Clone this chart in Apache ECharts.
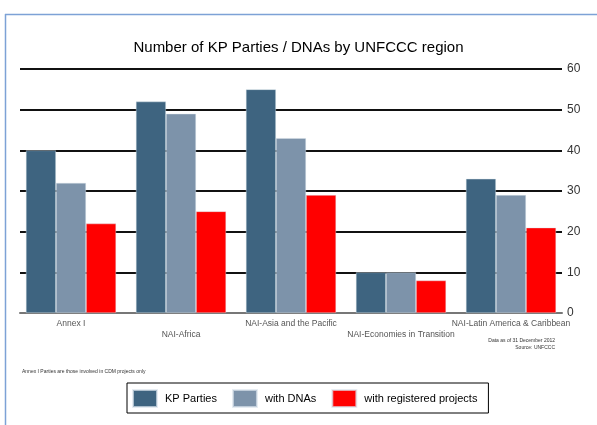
<!DOCTYPE html>
<html>
<head>
<meta charset="utf-8">
<script src="https://cdn.jsdelivr.net/npm/echarts@6/dist/echarts.min.js"></script>
<style>
html,body{margin:0;padding:0;background:#fff;}
#main{width:597px;height:425px;}
</style>
</head>
<body>
<div id="main"></div>
<script>
// regions
var categories = ['Annex I', 'NAI-Africa', 'NAI-Asia and the Pacific', 'NAI-Economies in Transition', 'NAI-Latin America & Caribbean'];
// series
var kpParties = [40, 52, 55, 10, 33];
var withDNAs = [32, 49, 43, 10, 29];
var withProjects = [22, 25, 29, 8, 21];
var seriesNames = ['KP Parties', 'with DNAs', 'with registered projects'];
var yTicks = [0, 10, 20, 30, 40, 50, 60];

var fontName = '"Liberation Sans", Arial, sans-serif';

var chart = echarts.init(document.getElementById('main'));

function barSeries(name, data, color){
	return {
		name: name,
		type: 'bar',
		xAxisIndex: 1,
		yAxisIndex: 1,
		data: data,
		barGap: '0%',
		barCategoryGap: '18%',
		itemStyle: {color: color, borderColor: 'rgba(220,228,236,0.7)', borderWidth: 0.6}
	};
}

var yMin = yTicks[0], yMax = yTicks[yTicks.length - 1];

var option = {
	animation: false,
	title: {
		text: 'Number of KP Parties / DNAs by UNFCCC region',
		left: 'center',
		top: 35,
		textStyle: {fontFamily: fontName, fontSize: 15, fontWeight: 'normal', color: '#000'}
	},
	// grid 0: 网格线和坐标轴  grid 1: 柱子
	grid: [
		{left: 20, right: 35, top: 69, bottom: 112},
		{left: 16, right: 31, top: 69, bottom: 112}
	],
	legend: {
		data: seriesNames,
		left: 127,
		top: 383,
		padding: [6, 11, 5, 5],
		itemGap: 15,
		itemWidth: 24,
		itemHeight: 17,
		borderColor: '#000',
		borderWidth: 1,
		textStyle: {fontFamily: fontName, fontSize: 11, color: '#000', padding: [0, 0, 0, 3]},
		icon: 'rect'
	},
	xAxis: [
		{
			type: 'category',
			gridIndex: 0,
			data: categories,
			axisLine: {lineStyle: {color: '#777', width: 2}},
			axisTick: {show: false},
			axisLabel: {show: false}
		},
		{
			type: 'category',
			gridIndex: 1,
			data: categories,
			axisLine: {show: false},
			axisTick: {show: false},
			axisLabel: {
				interval: 0,
				margin: 5,
				fontFamily: fontName,
				fontSize: 8.5,
				lineHeight: 11,
				color: '#555',
				formatter: function(v, i){
					// 标签交错两行
					return i % 2 == 1 ? '\n' + v : v;
				}
			}
		}
	],
	yAxis: [
		{
			type: 'value',
			gridIndex: 0,
			position: 'right',
			min: yMin,
			max: yMax,
			interval: 10,
			axisLine: {show: false},
			axisTick: {show: false},
			axisLabel: {margin: 5, fontFamily: fontName, fontSize: 12, color: '#333'},
			splitLine: {lineStyle: {color: '#111', width: 2}}
		},
		{
			type: 'value',
			gridIndex: 1,
			min: yMin,
			max: yMax,
			interval: 10,
			show: false
		}
	],
	series: [
		barSeries(seriesNames[0], kpParties, '#3e6480'),
		barSeries(seriesNames[1], withDNAs, '#7d93aa'),
		barSeries(seriesNames[2], withProjects, '#ff0000')
	],
	graphic: [
		//边框
		{type: 'line', shape: {x1: 5.5, y1: 14, x2: 5.5, y2: 425}, style: {stroke: '#7da2d6', lineWidth: 1.5}},
		{type: 'line', shape: {x1: 5, y1: 14.5, x2: 597, y2: 14.5}, style: {stroke: '#7da2d6', lineWidth: 1.5}},
		{type: 'text', right: 42, top: 338, style: {text: 'Data as of 31 December 2012', font: '5px ' + fontName, fill: '#333', textAlign: 'right'}},
		{type: 'text', right: 42, top: 345, style: {text: 'Source: UNFCCC', font: '5px ' + fontName, fill: '#333', textAlign: 'right'}},
		{type: 'text', left: 22, top: 369, style: {text: 'Annex I Parties are those involved in CDM projects only', font: '5px ' + fontName, fill: '#333'}}
	]
};

chart.setOption(option);
</script>
</body>
</html>
